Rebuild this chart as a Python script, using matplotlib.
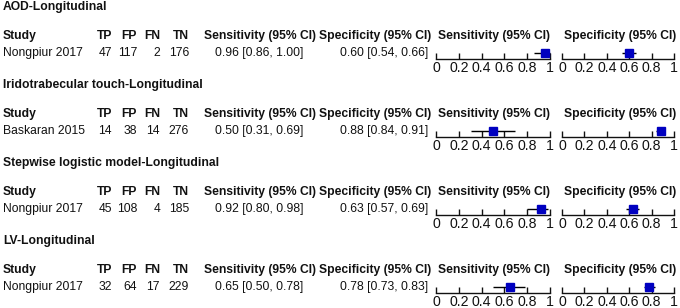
import matplotlib
matplotlib.use("Agg")
import matplotlib.pyplot as plt

plt.rcParams["font.family"] = ["Liberation Sans", "DejaVu Sans"]

GROUPS = [
    "AOD-Longitudinal",
    "Iridotrabecular touch-Longitudinal",
    "Stepwise logistic model-Longitudinal",
    "LV-Longitudinal",
]
STUDIES = ["Nongpiur 2017", "Baskaran 2015", "Nongpiur 2017", "Nongpiur 2017"]
TP = [47, 14, 45, 32]
FP = [117, 38, 108, 64]
FN = [2, 14, 4, 17]
TN = [176, 276, 185, 229]
SENS = [0.96, 0.50, 0.92, 0.65]
SENS_LO = [0.86, 0.31, 0.80, 0.50]
SENS_HI = [1.00, 0.69, 0.98, 0.78]
SPEC = [0.60, 0.88, 0.63, 0.78]
SPEC_LO = [0.54, 0.84, 0.57, 0.73]
SPEC_HI = [0.66, 0.91, 0.69, 0.83]
TICKS = [0, 0.2, 0.4, 0.6, 0.8, 1]
TICK_LABELS = ["0", "0.2", "0.4", "0.6", "0.8", "1"]

W, H = 680, 308
FS = 8.7
BLUE = "#0000c0"
INK = "#111111"


def fx(px):
    return px / W


def fy(py):
    return 1 - py / H


def forest(fig, x0, x1, y_axis, est, lo, hi):
    # axis line sits at the bottom of a thin axes; the estimate rides ~6px above it
    ax = fig.add_axes([fx(x0), fy(y_axis), fx(x1) - fx(x0), 12 / H])
    ax.set_xlim(0, 1)
    ax.set_ylim(0, 2)
    for s in ("top", "left", "right"):
        ax.spines[s].set_visible(False)
    ax.spines["bottom"].set_linewidth(1.0)
    ax.spines["bottom"].set_color(INK)
    ax.set_yticks([])
    ax.set_xticks(TICKS)
    ax.set_xticklabels(TICK_LABELS)
    ax.tick_params(axis="x", direction="in", length=4, width=1, labelsize=10.2,
                   pad=1.5, colors=INK)
    ax.patch.set_alpha(0)
    ax.hlines(1, lo, hi, color="black", lw=1, clip_on=False)
    ax.plot([est], [1], marker="s", ms=5.5, color=BLUE, mec=BLUE, clip_on=False, zorder=3)
    return ax


def main():
    fig = plt.figure(figsize=(W / 100, H / 100), dpi=100)
    bold = dict(fontsize=FS, fontweight="bold", va="center", color=INK)
    reg = dict(fontsize=FS, va="center", color=INK)

    cols = (112, 137, 160, 189)  # right edges of TP, FP, FN, TN

    for i, g in enumerate(GROUPS):
        top = 7 + 78 * i
        hy, dy, ay = top + 29, top + 46, top + 52

        fig.text(fx(3), fy(top), g, **bold)

        # header row
        fig.text(fx(3), fy(hy), "Study", **bold)
        for name, xr in zip(("TP", "FP", "FN", "TN"), cols):
            fig.text(fx(xr), fy(hy), name, ha="right", **bold)
        fig.text(fx(260), fy(hy), "Sensitivity (95% CI)", ha="center", **bold)
        fig.text(fx(375), fy(hy), "Specificity (95% CI)", ha="center", **bold)
        fig.text(fx(494), fy(hy), "Sensitivity (95% CI)", ha="center", **bold)
        fig.text(fx(620), fy(hy), "Specificity (95% CI)", ha="center", **bold)

        # data row
        fig.text(fx(3), fy(dy), STUDIES[i], **reg)
        for v, xr in zip((TP[i], FP[i], FN[i], TN[i]), cols):
            fig.text(fx(xr), fy(dy), str(v), ha="right", **reg)
        fig.text(fx(259), fy(dy), f"{SENS[i]:.2f} [{SENS_LO[i]:.2f}, {SENS_HI[i]:.2f}]",
                 ha="center", **reg)
        fig.text(fx(428), fy(dy), f"{SPEC[i]:.2f} [{SPEC_LO[i]:.2f}, {SPEC_HI[i]:.2f}]",
                 ha="right", **reg)

        forest(fig, 436, 550, ay, SENS[i], SENS_LO[i], SENS_HI[i])
        forest(fig, 562, 674, ay, SPEC[i], SPEC_LO[i], SPEC_HI[i])

    fig.savefig("out.png", dpi=100)


if __name__ == "__main__":
    main()
